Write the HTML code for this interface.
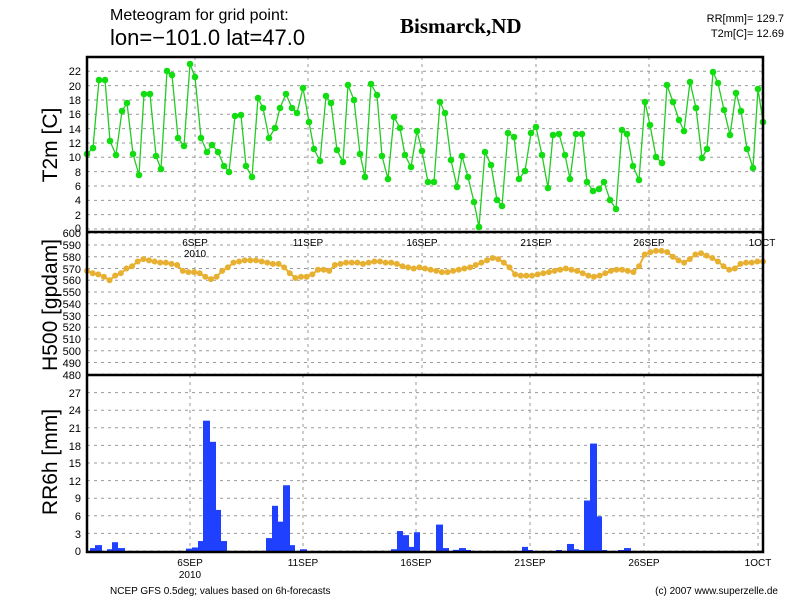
<!DOCTYPE html>
<html><head><meta charset="utf-8"><style>
body{margin:0;background:#fff;}
svg text{font-family:"Liberation Sans",sans-serif;fill:#000;}
</style></head><body>
<svg id="s" width="800" height="600" xmlns="http://www.w3.org/2000/svg">
<rect width="800" height="600" fill="#fff"/>
<g id="grid" stroke="#999" stroke-width="1" stroke-dasharray="3,4"></g>
<g id="data"></g>
<g fill="none" stroke="#000" stroke-width="2.5">
<rect x="87" y="57" width="676" height="495"/>
<line x1="87" y1="232" x2="763" y2="232"/>
<line x1="87" y1="375" x2="763" y2="375"/>
</g>
<text x="110" y="20" font-size="16">Meteogram for grid point:</text>
<text x="110" y="45" font-size="22">lon=−101.0 lat=47.0</text>
<text x="400" y="33" font-size="21" font-weight="bold" style="font-family:'Liberation Serif',serif">Bismarck,ND</text>
<text x="784" y="22" font-size="11" text-anchor="end">RR[mm]= 129.7</text>
<text x="784" y="37" font-size="11" text-anchor="end">T2m[C]= 12.69</text>
<text transform="translate(57,145) rotate(-90)" font-size="21" text-anchor="middle">T2m [C]</text>
<text transform="translate(57,305) rotate(-90)" font-size="21" text-anchor="middle">H500 [gpdam]</text>
<text transform="translate(57,462) rotate(-90)" font-size="21" text-anchor="middle">RR6h [mm]</text>
<g font-size="11" text-anchor="end">
<text x="81" y="75">22</text><text x="81" y="90">20</text><text x="81" y="104">18</text><text x="81" y="118">16</text><text x="81" y="133">14</text><text x="81" y="147">12</text><text x="81" y="161">10</text><text x="81" y="176">8</text><text x="81" y="190">6</text><text x="81" y="204">4</text><text x="81" y="219">2</text><text x="81" y="232">0</text>
<text x="81" y="237">600</text><text x="81" y="249">590</text><text x="81" y="261">580</text><text x="81" y="273">570</text><text x="81" y="284">560</text><text x="81" y="296">550</text><text x="81" y="308">540</text><text x="81" y="320">530</text><text x="81" y="331">520</text><text x="81" y="343">510</text><text x="81" y="355">500</text><text x="81" y="367">490</text><text x="81" y="379">480</text>
<text x="81" y="397">27</text><text x="81" y="414">24</text><text x="81" y="432">21</text><text x="81" y="450">18</text><text x="81" y="467">15</text><text x="81" y="485">12</text><text x="81" y="502">9</text><text x="81" y="520">6</text><text x="81" y="538">3</text><text x="81" y="555">0</text>
</g>
<g font-size="10" text-anchor="middle">
<text x="195" y="246">6SEP</text><text x="195" y="257">2010</text><text x="308" y="246">11SEP</text><text x="422" y="246">16SEP</text><text x="536" y="246">21SEP</text><text x="649" y="246">26SEP</text><text x="762" y="246">1OCT</text>
<text x="190" y="566">6SEP</text><text x="190" y="578">2010</text><text x="303" y="566">11SEP</text><text x="416" y="566">16SEP</text><text x="530" y="566">21SEP</text><text x="644" y="566">26SEP</text><text x="758" y="566">1OCT</text>
</g>
<text x="110" y="594" font-size="10">NCEP GFS 0.5deg; values based on 6h-forecasts</text>
<text x="778" y="594" font-size="10" text-anchor="end">(c) 2007 www.superzelle.de</text>
</svg>
<script>
var NS="http://www.w3.org/2000/svg";
function el(p,t,a){var e=document.createElementNS(NS,t);for(var k in a)e.setAttribute(k,a[k]);p.appendChild(e);return e;}
var g=document.getElementById('grid'),d=document.getElementById('data');
var i;
for(i=0;i<=22;i+=2){var y=229-7.17*i;el(g,'line',{x1:87,x2:763,y1:y,y2:y});}
for(i=0;i<=12;i++){var y=233.3+i*11.75;el(g,'line',{x1:87,x2:763,y1:y,y2:y});}
for(i=0;i<=9;i++){var y=551-i*17.6;el(g,'line',{x1:87,x2:763,y1:y,y2:y});}
[195,308,422,536,649,762].forEach(function(x){el(g,'line',{x1:x,x2:x,y1:57,y2:375});});
[190,303,416,530,644,758].forEach(function(x){el(g,'line',{x1:x,x2:x,y1:375,y2:552});});
var T=[[87,154],[93,148],[99,80],[105,80],[110,141],[116,155],[122,111],[127,103],[133,154],[139,175],[144,94],[150,94],[156,156],[161,169],[167,71],[172,75],[178,138],[184,146],[190,64],[195,77],[201,138],[207,152],[212,145],[218,152],[224,166],[229,172],[235,116],[241,115],[246,166],[252,177],[258,98],[263,108],[269,138],[275,128],[280,108],[286,94],[292,108],[297,113],[303,88],[309,122],[314,149],[320,161],[326,96],[331,103],[337,150],[343,162],[348,85],[354,100],[360,154],[365,177],[371,84],[377,95],[382,156],[388,179],[394,117],[400,128],[405,155],[411,167],[417,131],[422,151],[428,182],[434,182],[440,102],[445,113],[451,160],[457,187],[462,156],[468,177],[474,202],[479,227],[485,152],[491,165],[497,200],[502,206],[508,133],[514,137],[519,179],[525,171],[531,133],[536,127],[542,155],[548,188],[553,135],[559,134],[565,155],[570,179],[576,134],[582,134],[587,182],[593,191],[599,189],[604,182],[610,200],[616,209],[622,130],[627,134],[633,166],[639,180],[645,102],[650,125],[656,157],[662,163],[667,85],[673,102],[679,120],[684,131],[690,82],[696,108],[702,158],[707,149],[713,72],[718,83],[724,110],[730,135],[736,93],[741,111],[747,149],[753,168],[758,89],[763,122]];
el(d,'polyline',{points:T.map(function(p){return p.join(',')}).join(' '),fill:'none',stroke:'#22cc22','stroke-width':1.3});
T.forEach(function(p){el(d,'circle',{cx:p[0],cy:p[1],r:3.3,fill:'#11dd11'});});
var H=[568,566,565,563,560,564,566,570,572,576,578,577,576,575,575,574,573,568,567,567,566,563,561,563,568,571,575,576,577,577,577,576,575,574,574,571,566,562,563,563,565,569,569,568,573,574,575,575,575,574,575,576,576,575,575,574,
572,571,570,571,570,569,568,567,567,568,569,570,571,573,575,577,579,578,575,571,565,564,564,564,565,566,567,568,569,570,569,568,566,564,563,564,566,568,569,569,568,567,572,582,584,585,585,584,580,577,575,578,582,583,581,579,576,572,569,570,574,575,575,576,576];
var sp=676/(H.length-1);
var hp=[];H.forEach(function(v,k){var x=87+k*sp,y=233.3+(600-v)*1.175;hp.push(x+','+y);el(d,'circle',{cx:x,cy:y,r:3,fill:'#e8b030'});});
el(d,'polyline',{points:hp.join(' '),fill:'none',stroke:'#e8b030','stroke-width':2});
var R=[[90,95,0.5],[95,102,1.0],[107,112,0.3],[112,118,1.5],[118,125,0.5],[186,192,0.4],[192,198,0.6],[198,203,1.7],[203,210,22.2],[210,216,18.6],[216,221,7.0],[221,227,1.7],[266,272,2.2],[272,278,7.7],[278,283,5.0],[283,290,11.2],[290,295,1.0],[300,307,0.3],[391,397,0.3],[397,403,3.4],[403,409,2.7],[409,414,0.7],[414,420,3.2],[436,443,4.5],[443,449,0.5],[453,459,0.2],[459,466,0.5],[466,471,0.1],[522,528,0.7],[528,533,0.1],[556,562,0.1],[567,574,1.2],[574,579,0.3],[579,584,0.1],[584,590,8.6],[590,597,18.3],[597,602,5.9],[602,607,0.1],[618,624,0.1],[624,631,0.5]];
R.forEach(function(b){var h=Math.max(b[2]*5.87,1);el(d,'rect',{x:b[0],y:551-h,width:b[1]-b[0],height:h,fill:'#2040ff'});});
</script>
</body></html>
